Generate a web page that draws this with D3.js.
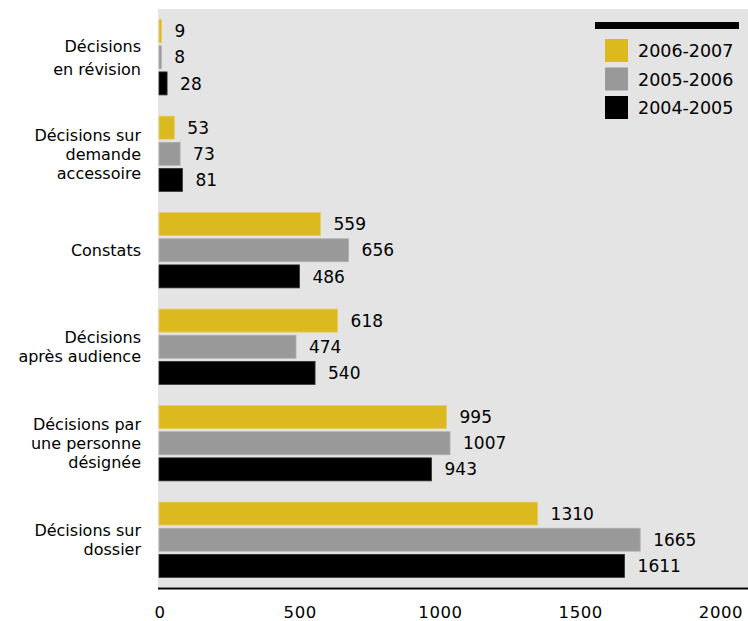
<!DOCTYPE html>
<html>
<head>
<meta charset="utf-8">
<script src="https://cdn.jsdelivr.net/npm/d3@7"></script>
<style>
  body { margin: 0; background: #fff; }
  text { font-family: "DejaVu Sans", sans-serif; fill: #000; }
</style>
</head>
<body>
<div id="chart"></div>
<script>
// Data
const categories = [
  ["Décisions", "en révision"],
  ["Décisions sur", "demande", "accessoire"],
  ["Constats"],
  ["Décisions", "après audience"],
  ["Décisions par", "une personne", "désignée"],
  ["Décisions sur", "dossier"]
];
const seriesNames = ["2006-2007", "2005-2006", "2004-2005"];
const values2006_2007 = [9, 53, 559, 618, 995, 1310];
const values2005_2006 = [8, 73, 656, 474, 1007, 1665];
const values2004_2005 = [28, 81, 486, 540, 943, 1611];
const tickValues = [0, 500, 1000, 1500, 2000];

const seriesValues = [values2006_2007, values2005_2006, values2004_2005];
const colors = ["#dcb91f", "#999999", "#000000"];
const strokes = ["#e6cc60", "#b0b0b0", "#333333"];

const config = {
  width  : 748,
  height : 621,
  left   : 159,
  right  : 737,
  top    : 10,
  bottom : 587
};

const svg = d3.select("#chart")
  .append("svg")
    .attr("width", config.width)
    .attr("height", config.height);

// plot background
svg.append("rect")
  .attr("x", config.left - 1)
  .attr("y", config.top - 1)
  .attr("width", config.width - config.left + 1)
  .attr("height", config.bottom - config.top + 1)
  .attr("fill", "#e4e4e4");

const x = d3.scaleLinear()
  .domain([0, 2000])
  .range([config.left, config.right]);

// the printed axis labels sit a little left of the bar scale
const xLabels = d3.scaleLinear()
  .domain([0, 2000])
  .range([160, 721]);

const y0 = d3.scaleBand()
  .domain(d3.range(categories.length))
  .range([config.top, config.bottom])
  .paddingInner(0.22)
  .paddingOuter(0.1);

const y1 = d3.scaleBand()
  .domain(d3.range(seriesNames.length))
  .range([0, y0.bandwidth()])
  .paddingInner(0.12);

const rows = [];
categories.forEach(function(c, i) {
  seriesValues.forEach(function(vals, s) {
    rows.push({cat: i, s: s, value: vals[i]});
  });
});

const groups = svg.append("g");

groups.selectAll("rect.bar")
  .data(rows)
  .enter()
  .append("rect")
    .attr("class", "bar")
    .attr("x", x(0))
    .attr("y", d => y0(d.cat) + y1(d.s))
    .attr("width", d => x(d.value) - x(0))
    .attr("height", y1.bandwidth())
    .attr("fill", d => colors[d.s])
    .attr("stroke", d => strokes[d.s])
    .attr("stroke-width", 0.8);

groups.selectAll("text.val")
  .data(rows)
  .enter()
  .append("text")
    .attr("class", "val")
    .attr("x", d => x(d.value) + 13)
    .attr("y", d => y0(d.cat) + y1(d.s) + y1.bandwidth() / 2)
    .attr("dy", "0.36em")
    .style("font-size", "17px")
    .text(d => d.value);

// category labels
const lineHeights = [23, 19, 19, 19, 19, 19];
categories.forEach(function(lines, i) {
  const lh = lineHeights[i];
  const cy = y0(i) + y0.bandwidth() / 2;
  const t = svg.append("text")
    .attr("text-anchor", "end")
    .style("font-size", "16px");
  lines.forEach(function(line, k) {
    t.append("tspan")
      .attr("x", 141)
      .attr("y", cy + (k - (lines.length - 1) / 2) * lh)
      .attr("dy", "0.36em")
      .text(line);
  });
});

// x axis
svg.append("line")
  .attr("x1", config.left - 1)
  .attr("x2", config.width)
  .attr("y1", 588.5)
  .attr("y2", 588.5)
  .attr("stroke", "#000")
  .attr("stroke-width", 2);

svg.selectAll("text.tick")
  .data(tickValues)
  .enter()
  .append("text")
    .attr("class", "tick")
    .attr("x", d => xLabels(d))
    .attr("y", 618)
    .attr("text-anchor", "middle")
    .style("font-size", "16.5px")
    .style("letter-spacing", "0.6px")
    .text(d => d);

// legend
const legend = svg.append("g");
legend.append("rect")
  .attr("x", 595)
  .attr("y", 22)
  .attr("width", 144)
  .attr("height", 7)
  .attr("fill", "#000");

const items = legend.selectAll("g.item")
  .data(seriesNames)
  .enter()
  .append("g")
    .attr("class", "item")
    .attr("transform", (d, i) => "translate(605," + (39 + i * 28.5) + ")");

items.append("rect")
  .attr("width", 23)
  .attr("height", 23)
  .attr("fill", (d, i) => colors[i]);

items.append("text")
  .attr("x", 33)
  .attr("y", 12)
  .attr("dy", "0.36em")
  .style("font-size", "17.5px")
  .text(d => d);
</script>
</body>
</html>
